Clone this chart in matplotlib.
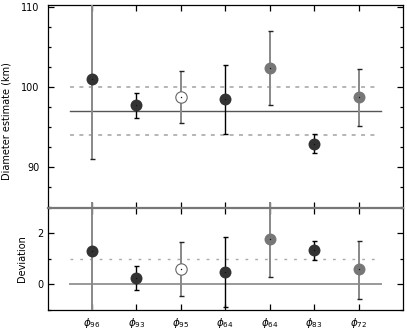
import matplotlib
matplotlib.use("Agg")
import matplotlib.pyplot as plt
import numpy as np
from matplotlib.ticker import MultipleLocator

# ---- data ----
subscripts = ['96', '93', '95', '64', '64', '83', '72']
diam = [101.0, 97.7, 98.75, 98.45, 102.4, 92.9, 98.7]
diam_lo = [91.0, 96.2, 95.5, 94.2, 97.75, 91.8, 95.2]
diam_hi = [112.0, 99.2, 102.0, 102.7, 107.0, 94.1, 102.25]
dev = [1.32, 0.25, 0.59, 0.49, 1.78, 1.34, 0.58]
dev_lo = [-1.0, -0.24, -0.47, -0.90, 0.27, 0.95, -0.58]
dev_hi = [3.22, 0.72, 1.65, 1.87, 3.22, 1.71, 1.71]
mean_diam = 97.0
diam_band = [94.0, 100.0]
dev_ref = 0.0
dev_band = 1.0

bar_colors = ['#888888', 'black', '#888888', 'black', '#888888', 'black', '#888888']
face_colors = ['#333333', '#333333', 'none', '#333333', '#777777', '#333333', '#777777']

plt.rcParams['font.family'] = ['DejaVu Sans']
fig = plt.figure(figsize=(4.07, 3.30), dpi=100)
W, H = 407.0, 330.0
L, R = 47.5, 403.0
ax1 = fig.add_axes([L / W, 1 - 208 / H, (R - L) / W, (208 - 5) / H])
ax2 = fig.add_axes([L / W, 1 - 309.5 / H, (R - L) / W, (309.5 - 208) / H])

x = np.arange(1, len(subscripts) + 1)


def draw(ax, vals, lo, hi, ylim, clip):
    ax.set_xlim(0, 8)
    ax.set_ylim(*ylim)
    for i in range(len(vals)):
        bc = bar_colors[i]
        lw = 1.4 if bc != 'black' else 1.0
        ax.plot([x[i], x[i]], [lo[i], hi[i]], color=bc, lw=lw, zorder=3,
                clip_on=clip, solid_capstyle='butt')
        caps = [v for v in (lo[i], hi[i]) if ylim[0] < v < ylim[1]]
        ax.plot([x[i]] * len(caps), caps, ls='none', marker='_', ms=3.6,
                mew=1.0, color='#222222' if bc != 'black' else 'black', zorder=3)
        fc = face_colors[i]
        if fc == 'none':
            ax.plot(x[i], vals[i], 'o', ms=8.2, mfc='white', mec='#666666',
                    mew=0.8, zorder=4)
        else:
            ax.plot(x[i], vals[i], 'o', ms=8.6, mfc=fc, mec=fc, mew=0, zorder=4)
        ax.plot(x[i], vals[i], 'o', ms=1.0, color='#111111', mew=0, zorder=5)


draw(ax1, diam, diam_lo, diam_hi, (84.9, 110.25), True)
draw(ax2, dev, dev_lo, dev_hi, (-1.0, 3.0), False)

# reference lines
ax1.plot([0.5, 7.5], [mean_diam, mean_diam], color='#555555', lw=1.0, zorder=2)
for b in diam_band:
    ax1.plot([0.5, 7.45], [b, b], color='#b0b0b0', lw=1.3,
             ls=(0, (2.2, 3.0)), zorder=2)
ax2.plot([0.5, 7.5], [dev_ref, dev_ref], color='#999999', lw=1.4, zorder=2)
ax2.plot([0.5, 7.45], [dev_band, dev_band], color='#aaaaaa', lw=1.0,
         ls=(0, (2.0, 5.0)), zorder=2)

# ticks and spines
for ax in (ax1, ax2):
    ax.set_xticks(x)
    ax.tick_params(axis='both', which='both', direction='in', top=True,
                   right=True, width=0.9, labelsize=7, colors='black')
    ax.tick_params(axis='both', which='major', length=4.2)
    ax.tick_params(axis='y', which='minor', length=2.4)
    for s in ax.spines.values():
        s.set_linewidth(0.9)

ax1.yaxis.set_major_locator(MultipleLocator(10))
ax1.yaxis.set_minor_locator(MultipleLocator(2.5))
ax1.tick_params(axis='y', pad=6)
ax1.set_xticklabels([])
ax1.spines['bottom'].set_visible(False)

ax2.yaxis.set_major_locator(MultipleLocator(2))
ax2.yaxis.set_minor_locator(MultipleLocator(1))
ax2.tick_params(axis='y', pad=3)
ax2.set_xticklabels([r'$\phi_{%s}$' % s for s in subscripts], fontsize=7.5)
ax2.tick_params(axis='x', pad=5)
ax2.spines['top'].set_color('#777777')
ax2.spines['top'].set_linewidth(1.6)
ax2.spines['top'].set_zorder(6)
for tl, c in zip(ax2.xaxis.get_ticklines()[0::2], bar_colors):
    tl.set_color(c)

ax1.set_ylabel('Diameter estimate (km)', fontsize=7)
ax1.yaxis.set_label_coords(-0.10, 0.43)
ax2.set_ylabel('Deviation', fontsize=7)
ax2.yaxis.set_label_coords(-0.058, 0.5)

fig.savefig('out.png', dpi=100)
